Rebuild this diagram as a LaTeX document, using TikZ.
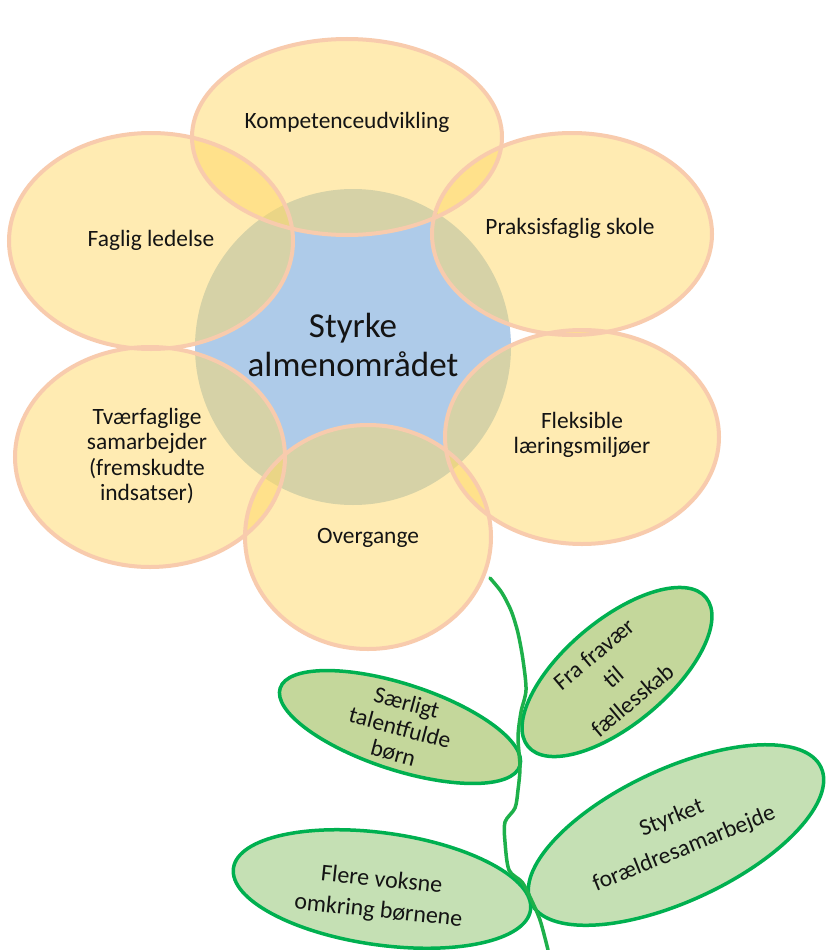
\documentclass[tikz,border=0pt]{standalone}
\usepackage{fontspec}
\setmainfont{Carlito}
\definecolor{petalfill}{HTML}{FFD966}
\definecolor{petalline}{HTML}{F8CBAD}
\definecolor{centerblue}{HTML}{AECBE9}
\definecolor{leafline}{HTML}{00B050}
\definecolor{leafolive}{HTML}{C4D79B}
\definecolor{leaflight}{HTML}{C5E0B4}
\definecolor{stemgreen}{HTML}{1DB04A}
\tikzset{
  petalbody/.style={fill=petalfill, fill opacity=0.5},
  petalrim/.style={draw=petalline, line width=4},
  petaltext/.style={font=\fontsize{23.4}{25.5}\selectfont, align=center, inner sep=0pt, text=black!92},
  centertext/.style={font=\fontsize{35}{39}\selectfont, align=center, inner sep=0pt, text=black!92},
  leafbody/.style={draw=leafline, line width=3.5},
  leaftext/.style={align=center, inner sep=0pt, text=black!92},
  stemline/.style={draw=stemgreen, line width=3.5, line cap=round, line join=round}
}
\begin{document}
\begin{tikzpicture}[x=1pt,y=-1pt]
\useasboundingbox (0,0) rectangle (825,950);
\fill[white] (0,0) rectangle (825,950);

% centre
\coordinate (cc) at (353,347);
\fill[centerblue] (cc) circle [radius=158];

% petal centres
\coordinate (p1) at (347,137);
\coordinate (p2) at (572,234);
\coordinate (p3) at (151,241);
\coordinate (p4) at (582,437);
\coordinate (p5) at (150,457);
\coordinate (p6) at (368,537);

\path[petalbody] (p1) ellipse [x radius=155, y radius=98];
\path[petalbody] (p2) ellipse [x radius=140, y radius=101];
\path[petalbody] (p3) ellipse [x radius=142, y radius=108];
\path[petalbody] (p4) ellipse [x radius=137, y radius=107];
\path[petalbody] (p5) ellipse [x radius=135, y radius=110];
\path[petalbody] (p6) ellipse [x radius=123, y radius=112];

\path[petalrim] (p1) ellipse [x radius=155, y radius=98];
\path[petalrim] (p2) ellipse [x radius=140, y radius=101];
\path[petalrim] (p3) ellipse [x radius=142, y radius=108];
\path[petalrim] (p4) ellipse [x radius=137, y radius=107];
\path[petalrim] (p5) ellipse [x radius=135, y radius=110];
\path[petalrim] (p6) ellipse [x radius=123, y radius=112];

% petal texts
\node[petaltext] (t1) at (347,122) {Kompetenceudvikling};
\node[petaltext] (t2) at (570,228) {Praksisfaglig skole};
\node[petaltext] (t3) at (151,240) {Faglig ledelse};
\node[petaltext] (t4) at (582,435) {Fleksible\\læringsmiljøer};
\node[petaltext] (t5) at (147,456) {Tværfaglige\\samarbejder\\(fremskudte\\indsatser)};
\node[petaltext] (t6) at (368,538) {Overgange};
\node[centertext] (tc) at (353,345) {Styrke\\almenområdet};

% leaves
\coordinate (l1) at (400,727);
\coordinate (l2) at (617,672);
\coordinate (l3) at (676,835);
\coordinate (l4) at (382,889);
\path[leafbody, fill=leafolive, rotate around={-18:(l1)}] (l1) ellipse [x radius=126, y radius=43];
\path[leafbody, fill=leafolive, rotate around={40:(l2)}] (l2) ellipse [x radius=116, y radius=52];
\path[leafbody, fill=leaflight, rotate around={25:(l3)}] (l3) ellipse [x radius=160, y radius=66];
\path[leafbody, fill=leaflight, rotate around={-8:(l4)}] (l4) ellipse [x radius=150, y radius=56];

% stem
\path[stemline] plot[smooth, tension=0.5] coordinates {(490,578) (500,590) (506,600) (512,613) (518,633) (523,660) (526,690) (521,712) (518,737) (520,767) (518,790) (515,808) (505,822) (505,842) (509,870) (522,882) (530,897) (540,920) (548,950)};

% leaf texts
\node[leaftext, rotate=-15, font=\fontsize{23.5}{26}\selectfont] (s1) at (400,728) {Særligt\\talentfulde\\børn};
\node[leaftext, rotate=40, font=\fontsize{23.5}{30}\selectfont] (s2) at (613,677) {Fra fravær\\til\\fællesskab};
\node[leaftext, rotate=22, font=\fontsize{23.5}{33}\selectfont] (s3) at (678,834) {Styrket\\forældresamarbejde};
\node[leaftext, rotate=-6, font=\fontsize{24}{31}\selectfont] (s4) at (380,896) {Flere voksne\\omkring børnene};
\end{tikzpicture}
\end{document}
